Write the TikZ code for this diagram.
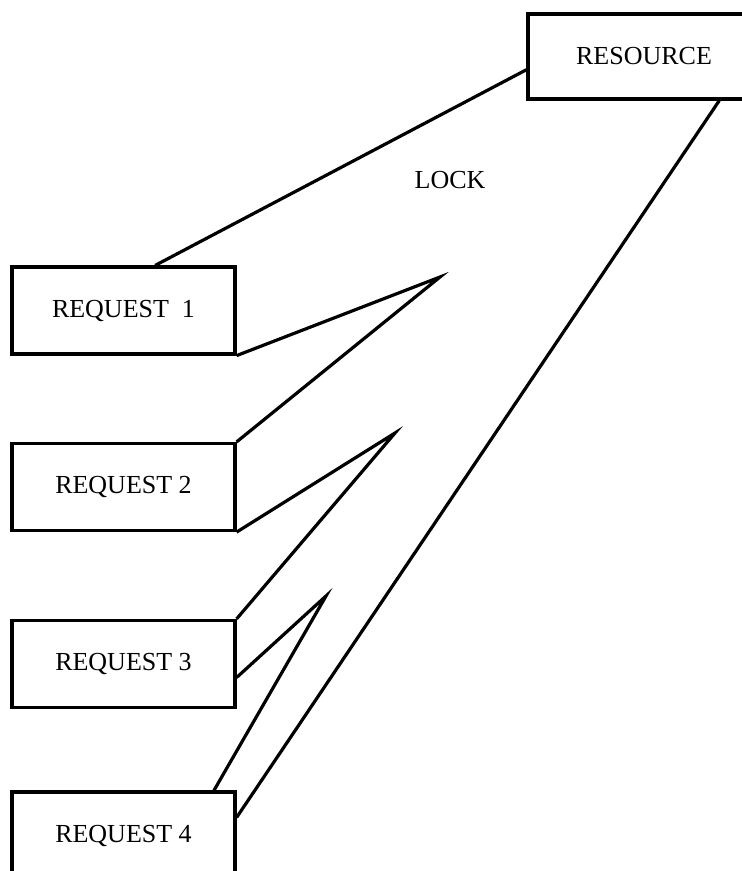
\documentclass[tikz,border=0pt]{standalone}
\usepackage{fontspec}
\setmainfont{Liberation Serif}
\usetikzlibrary{calc}
\begin{document}
\begin{tikzpicture}[x=1pt,y=-1pt,
  box/.style={draw,line width=3.2pt,rectangle,minimum width=223pt,minimum height=87pt,inner sep=0pt,font=\fontsize{26}{30}\selectfont},
  link/.style={line width=3.2pt,line join=miter}]
\clip (0,0) rectangle (742,871);
\node[box,minimum width=232pt,minimum height=85pt] (res) at (644,56.5) {RESOURCE};
\node[box] (r1) at (123.5,310.5) {REQUEST\hspace{0.5em}1};
\node[box] (r2) at (123.5,487) {REQUEST 2};
\node[box] (r3) at (123.5,664) {REQUEST 3};
\node[box] (r4) at (123.5,835.5) {REQUEST 4};
\node[font=\fontsize{26}{30}\selectfont] (lock) at (450,180) {LOCK};
\coordinate (t1) at (440,277);
\coordinate (t2) at (395,433);
\coordinate (t3) at (326,596);
\draw[link] ($(res.south west)!0.35!(res.north west)$) -- ($(r1.north west)!0.64!(r1.north east)$);
\draw[link] (r1.south east) -- (t1) -- (r2.north east);
\draw[link] (r2.south east) -- (t2) -- (r3.north east);
\draw[link] ($(r3.south east)!0.35!(r3.north east)$) -- (t3) -- ($(r4.north west)!0.9!(r4.north east)$);
\draw[link] ($(r4.south east)!0.70!(r4.north east)$) -- ($(res.south west)!0.82!(res.south east)$);
\end{tikzpicture}
\end{document}
